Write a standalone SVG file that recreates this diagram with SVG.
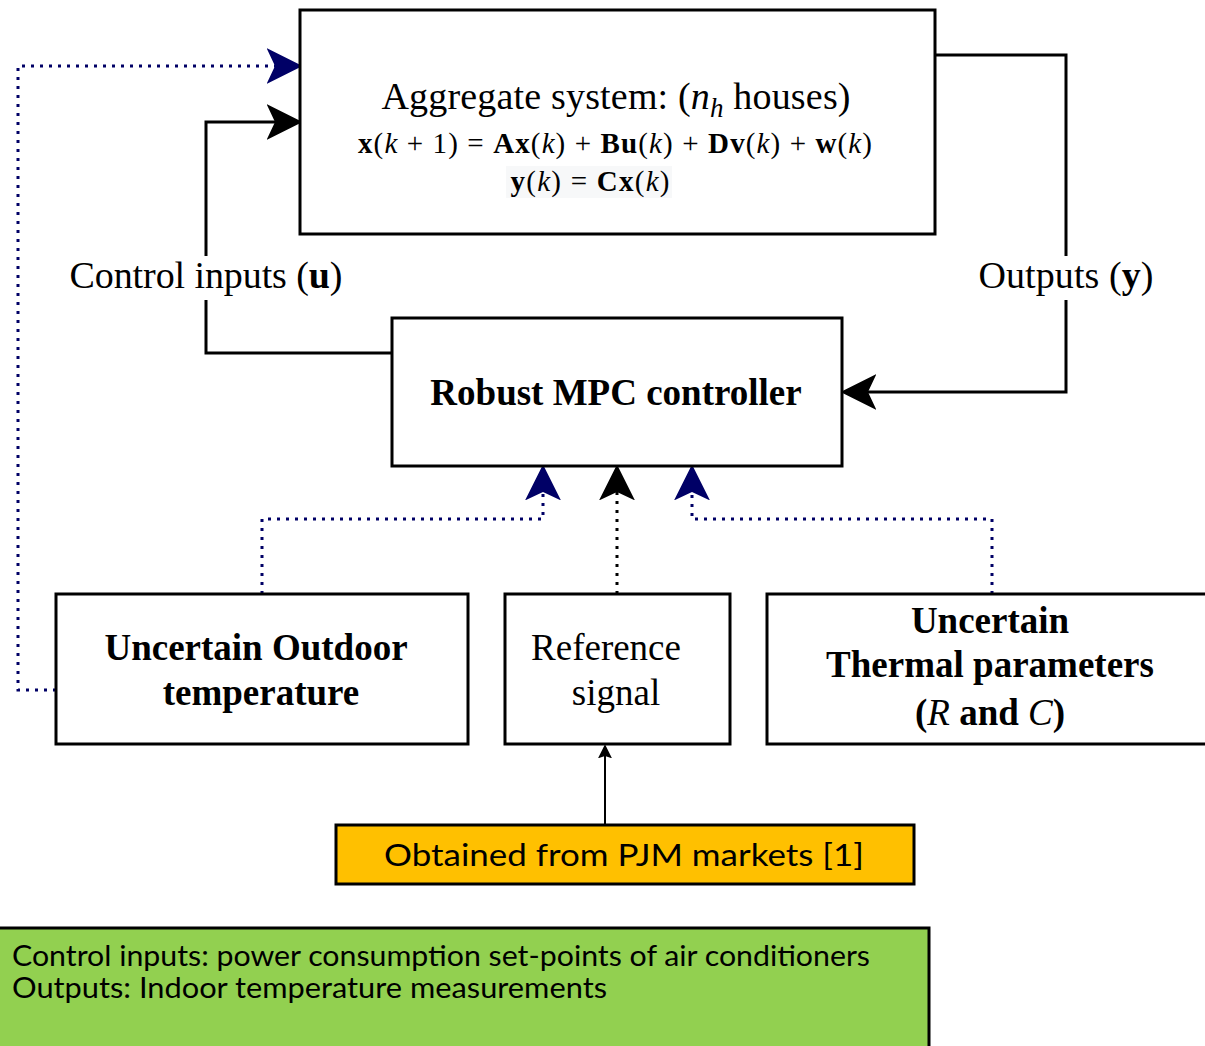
<svg xmlns="http://www.w3.org/2000/svg" width="1205" height="1046" viewBox="0 0 1205 1046">
<style>
.box{fill:#fff;stroke:#000;stroke-width:3}
.serif{font-family:"Liberation Serif","Times New Roman",serif;fill:#000}
.bold{font-weight:bold}
.it{font-style:italic}
.solid{fill:none;stroke:#000;stroke-width:3}
.dotnavy{fill:none;stroke:#000066;stroke-width:3;stroke-dasharray:3 6}
.dotblack{fill:none;stroke:#000;stroke-width:3;stroke-dasharray:3 6}
.gothic{font-family:"Lato","Liberation Sans",sans-serif;fill:#000}
</style>
<defs>
<marker id="arrBlack" markerUnits="userSpaceOnUse" markerWidth="36" markerHeight="36" viewBox="0 0 34 34" refX="8" refY="17" orient="auto">
<path d="M0,0 L34,17 L0,34 L8,17 z" fill="#000"/>
</marker>
<marker id="arrNavy" markerUnits="userSpaceOnUse" markerWidth="36" markerHeight="36" viewBox="0 0 34 34" refX="8" refY="17" orient="auto">
<path d="M0,0 L34,17 L0,34 L8,17 z" fill="#000066"/>
</marker>
<marker id="arrSmall" markerUnits="userSpaceOnUse" markerWidth="14" markerHeight="14" viewBox="0 0 12 12" refX="2" refY="6" orient="auto">
<path d="M0,0 L12,6 L0,12 L2,6 z" fill="#000"/>
</marker>
</defs>

<g id="connectors">
<path class="dotnavy" d="M56,690 H18 V66 H275" marker-end="url(#arrNavy)"/>
<path class="solid" d="M392,353 H206 V122 H275" marker-end="url(#arrBlack)"/>
<path class="solid" d="M936,55 H1066 V392 H868" marker-end="url(#arrBlack)"/>
<path class="dotnavy" d="M262,594 V519 H543 V492" marker-end="url(#arrNavy)"/>
<path class="dotblack" d="M617,594 V492" marker-end="url(#arrBlack)"/>
<path class="dotnavy" d="M992,594 V519 H692 V492" marker-end="url(#arrNavy)"/>
<path d="M605,825 V756" fill="none" stroke="#000" stroke-width="2" marker-end="url(#arrSmall)"/>
<rect x="66" y="256" width="282" height="44" fill="#fff"/>
<rect x="975" y="256" width="182" height="44" fill="#fff"/>
<text class="serif" x="206" y="288" font-size="38" text-anchor="middle" textLength="273">Control inputs (<tspan class="bold">u</tspan>)</text>
<text class="serif" x="1066" y="288" font-size="38" text-anchor="middle" textLength="175">Outputs (<tspan class="bold">y</tspan>)</text>
</g>

<g id="aggregate">
<rect class="box" x="300" y="10" width="635" height="224"/>
<text class="serif" x="616" y="109" font-size="38" text-anchor="middle" textLength="469">Aggregate system: (<tspan class="it">n</tspan><tspan class="it" font-size="27" dy="8">h</tspan><tspan dy="-8"> houses)</tspan></text>
<text class="serif" x="615" y="153" font-size="29" text-anchor="middle" textLength="514"><tspan class="bold">x</tspan>(<tspan class="it">k</tspan> + 1) = <tspan class="bold">Ax</tspan>(<tspan class="it">k</tspan>) + <tspan class="bold">Bu</tspan>(<tspan class="it">k</tspan>) + <tspan class="bold">Dv</tspan>(<tspan class="it">k</tspan>) + <tspan class="bold">w</tspan>(<tspan class="it">k</tspan>)</text>
<rect x="506" y="166" width="166" height="32" fill="#f7f8f9"/>
<text class="serif" x="590" y="191" font-size="29" text-anchor="middle" textLength="159"><tspan class="bold">y</tspan>(<tspan class="it">k</tspan>) = <tspan class="bold">Cx</tspan>(<tspan class="it">k</tspan>)</text>
</g>

<g id="mpc">
<rect class="box" x="392" y="318" width="450" height="148"/>
<text class="serif bold" x="616" y="405" font-size="37" text-anchor="middle">Robust MPC controller</text>
</g>

<g id="outdoor">
<rect class="box" x="56" y="594" width="412" height="150"/>
<text class="serif bold" x="256" y="660" font-size="37" text-anchor="middle">Uncertain Outdoor</text>
<text class="serif bold" x="261" y="705" font-size="37" text-anchor="middle">temperature</text>
</g>

<g id="reference">
<rect class="box" x="505" y="594" width="225" height="150"/>
<text class="serif" x="606" y="660" font-size="37" text-anchor="middle">Reference</text>
<text class="serif" x="616" y="705" font-size="37" text-anchor="middle">signal</text>
</g>

<g id="thermal">
<rect class="box" x="767" y="594" width="446" height="150"/>
<text class="serif bold" x="990" y="633" font-size="37" text-anchor="middle">Uncertain</text>
<text class="serif bold" x="990" y="677" font-size="37" text-anchor="middle">Thermal parameters</text>
<text class="serif bold" x="990" y="725" font-size="37" text-anchor="middle">(<tspan class="it" font-weight="normal">R</tspan> and <tspan class="it" font-weight="normal">C</tspan>)</text>
</g>

<g id="pjm">
<rect x="336" y="825" width="578" height="59" fill="#FFC000" stroke="#000" stroke-width="3"/>
<text class="gothic" x="624" y="866" font-size="31" text-anchor="middle" textLength="480" lengthAdjust="spacingAndGlyphs">Obtained from PJM markets [1]</text>
</g>

<g id="note">
<rect x="-2" y="928" width="931" height="130" fill="#92D050" stroke="#000" stroke-width="3"/>
<text class="gothic" x="12" y="966" font-size="28" textLength="858" lengthAdjust="spacingAndGlyphs">Control inputs: power consumption set-points of air conditioners</text>
<text class="gothic" x="12" y="998" font-size="28" textLength="595" lengthAdjust="spacingAndGlyphs">Outputs: Indoor temperature measurements</text>
</g>
</svg>
